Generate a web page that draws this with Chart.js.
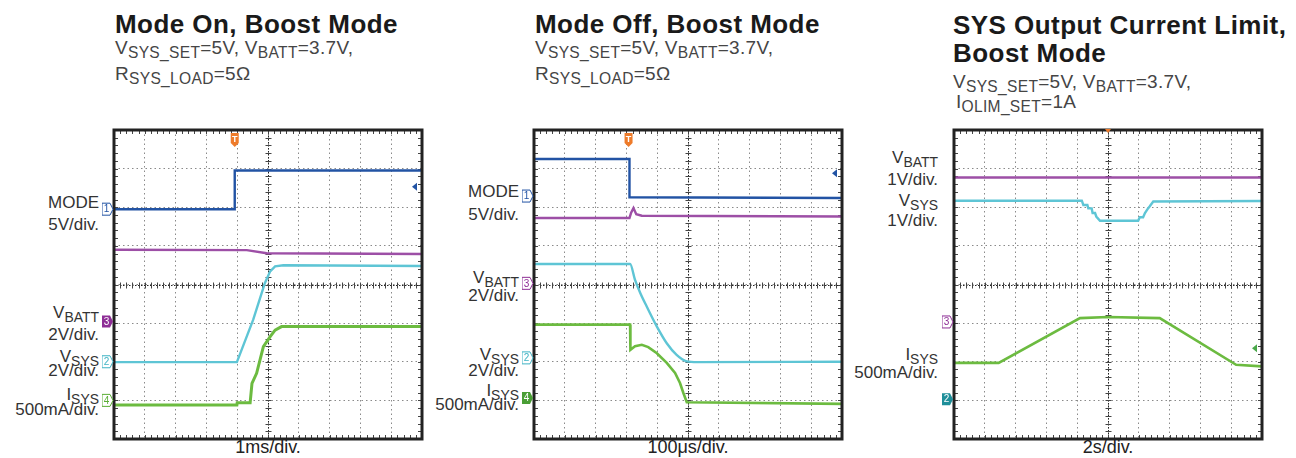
<!DOCTYPE html>
<html>
<head>
<meta charset="utf-8">
<script src="https://cdn.jsdelivr.net/npm/chart.js@4.4.1/dist/chart.umd.min.js"></script>
<style>
  html, body { margin:0; padding:0; background:#fff; }
  body { width:1296px; height:458px; position:relative; overflow:hidden; font-family:"Liberation Sans", Arial, Helvetica, sans-serif; }
  .t { position:absolute; white-space:nowrap; line-height:1; }
  .title { font-weight:bold; font-size:26px; color:#1a1a1a; letter-spacing:0.45px; }
  .sub { font-size:19px; color:#454545; letter-spacing:0.3px; }
  .sub .s { font-size:0.82em; position:relative; top:0.24em; }
  .lab { font-size:17px; color:#333; text-align:right; }
  .lab .s { font-size:0.82em; position:relative; top:0.3em; }
  .xl { font-size:18px; color:#222; text-align:center; width:308px; }
  canvas { position:absolute; }
</style>
</head>
<body>
<!-- Titles -->
<div class="t title" style="left:115px; top:11px;">Mode On, Boost Mode</div>
<div class="t sub" style="left:115px; top:38px;">V<span class="s">SYS_SET</span>=5V, V<span class="s">BATT</span>=3.7V,</div>
<div class="t sub" style="left:115px; top:64px;">R<span class="s">SYS_LOAD</span>=5Ω</div>

<div class="t title" style="left:535px; top:11px;">Mode Off, Boost Mode</div>
<div class="t sub" style="left:535px; top:38px;">V<span class="s">SYS_SET</span>=5V, V<span class="s">BATT</span>=3.7V,</div>
<div class="t sub" style="left:535px; top:64px;">R<span class="s">SYS_LOAD</span>=5Ω</div>

<div class="t title" style="left:953px; top:12px;">SYS Output Current Limit,</div>
<div class="t title" style="left:953px; top:40px;">Boost Mode</div>
<div class="t sub" style="left:953px; top:72px;">V<span class="s">SYS_SET</span>=5V, V<span class="s">BATT</span>=3.7V,</div>
<div class="t sub" style="left:956px; top:92px;">I<span class="s">OLIM_SET</span>=1A</div>

<!-- Panel 1 channel labels -->
<div class="t lab" style="right:1197px; top:193.6px;">MODE</div>
<div class="t lab" style="right:1197px; top:215.6px;">5V/div.</div>
<div class="t lab" style="right:1197px; top:303.6px;">V<span class="s">BATT</span></div>
<div class="t lab" style="right:1197px; top:325.6px;">2V/div.</div>
<div class="t lab" style="right:1197px; top:347.6px;">V<span class="s">SYS</span></div>
<div class="t lab" style="right:1197px; top:362.3px;">2V/div.</div>
<div class="t lab" style="right:1197px; top:385.6px;">I<span class="s">SYS</span></div>
<div class="t lab" style="right:1197px; top:400.6px;">500mA/div.</div>

<!-- Panel 2 channel labels -->
<div class="t lab" style="right:777px; top:182.6px;">MODE</div>
<div class="t lab" style="right:777px; top:205.6px;">5V/div.</div>
<div class="t lab" style="right:777px; top:268.6px;">V<span class="s">BATT</span></div>
<div class="t lab" style="right:777px; top:287.3px;">2V/div.</div>
<div class="t lab" style="right:777px; top:345.6px;">V<span class="s">SYS</span></div>
<div class="t lab" style="right:777px; top:362.3px;">2V/div.</div>
<div class="t lab" style="right:777px; top:382.3px;">I<span class="s">SYS</span></div>
<div class="t lab" style="right:777px; top:395.6px;">500mA/div.</div>

<!-- Panel 3 channel labels -->
<div class="t lab" style="right:358px; top:148.9px;">V<span class="s">BATT</span></div>
<div class="t lab" style="right:358px; top:170.6px;">1V/div.</div>
<div class="t lab" style="right:358px; top:192.3px;">V<span class="s">SYS</span></div>
<div class="t lab" style="right:358px; top:212.3px;">1V/div.</div>
<div class="t lab" style="right:358px; top:345.6px;">I<span class="s">SYS</span></div>
<div class="t lab" style="right:358px; top:363.9px;">500mA/div.</div>

<!-- Time base labels -->
<div class="t xl" style="left:114px; top:438px;">1ms/div.</div>
<div class="t xl" style="left:534px; top:438px;">100μs/div.</div>
<div class="t xl" style="left:954px; top:438px;">2s/div.</div>

<canvas id="c1" width="332" height="333" style="left:102px; top:118px;"></canvas>
<canvas id="c2" width="332" height="333" style="left:522px; top:118px;"></canvas>
<canvas id="c3" width="332" height="333" style="left:942px; top:118px;"></canvas>

<script>
// ---------- DATA (time in divisions 0..10, level in divisions 0..8) ----------
// Panel 1: Mode On, Boost Mode (1ms/div)
const modeOnX  = [0, 3.92, 3.92, 10];
const modeOnY  = [5.95, 5.95, 6.95, 6.95];
const vbattOnX = [0, 4.31, 4.96, 10];
const vbattOnY = [4.90, 4.89, 4.81, 4.79];
const vsysOnX  = [0, 3.99, 4.52, 4.90, 5.07, 5.23, 5.5, 10];
const vsysOnY  = [1.99, 1.99, 3.09, 4.04, 4.34, 4.47, 4.50, 4.48];
const isysOnX  = [0, 3.99, 4.0, 4.42, 4.48, 4.63, 4.85, 5.07, 5.23, 5.44, 10];
const isysOnY  = [0.88, 0.88, 0.94, 0.94, 1.44, 1.70, 2.39, 2.65, 2.82, 2.91, 2.91];
const markersOnLabels = ['1', '3', '2', '4'];
const markersOnLevels = [5.95, 3.04, 2.0, 1.0];
const arrowOnLevel = 6.53;
const triggerOnTime = 3.92;

// Panel 2: Mode Off, Boost Mode (100us/div)
const modeOffX  = [0, 3.10, 3.10, 10];
const modeOffY  = [7.25, 7.25, 6.26, 6.24];
const vbattOffX = [0, 3.10, 3.15, 3.23, 3.32, 3.5, 10];
const vbattOffY = [5.72, 5.72, 5.85, 5.98, 5.82, 5.78, 5.76];
const vsysOffX  = [0, 3.12, 3.28, 3.45, 3.66, 3.99, 4.31, 4.63, 4.96, 5.3, 10];
const vsysOffY  = [4.53, 4.53, 4.12, 3.78, 3.43, 2.91, 2.48, 2.18, 2.01, 1.99, 2.00];
const isysOffX  = [0, 3.12, 3.13, 3.28, 3.50, 3.71, 3.99, 4.31, 4.58, 4.74, 4.85, 4.96, 10];
const isysOffY  = [2.96, 2.96, 2.31, 2.40, 2.44, 2.38, 2.22, 1.97, 1.71, 1.45, 1.19, 0.95, 0.91];
const markersOffLabels = ['1', '3', '2', '4'];
const markersOffLevels = [6.29, 4.03, 2.10, 1.06];
const arrowOffLevel = 6.88;
const triggerOffTime = 3.07;

// Panel 3: SYS Output Current Limit, Boost Mode (2s/div)
const vbattLimX = [0, 10];
const vbattLimY = [6.77, 6.77];
const vsysLimX  = [0, 4.15, 4.2, 4.33, 4.36, 4.47, 4.5, 4.58, 4.62, 4.74, 5.98, 6.03, 6.14, 6.2, 6.3, 6.35, 6.47, 10];
const vsysLimY  = [6.17, 6.17, 6.06, 6.06, 5.97, 5.97, 5.85, 5.85, 5.76, 5.65, 5.65, 5.74, 5.74, 5.85, 5.97, 6.02, 6.15, 6.16];
const isysLimX  = [0, 1.45, 4.09, 5.0, 6.68, 9.16, 10];
const isysLimY  = [1.97, 1.97, 3.13, 3.16, 3.13, 1.92, 1.88];
const markersLimLabels = ['3', '2'];
const markersLimLevels = [3.03, 1.03];
const arrowLimLevel = 2.35;
const triggerLimTime = 5.0;

// ---------- STYLE ----------
const C = { mode:'#2253a4', vbatt:'#9d4fa6', vsys:'#5ec5d5', isys:'#6cbb40', trig:'#ee7b2a', frame:'#222' };

function pts(xs, ys) { return xs.map((x, i) => ({ x: x, y: ys[i] })); }

function scopePlugin(extra) {
  return {
    id: 'scope',
    beforeDatasetsDraw(chart) {
      const ctx = chart.ctx, a = chart.chartArea, sx = chart.scales.x, sy = chart.scales.y;
      ctx.save();
      const cx = Math.round(sx.getPixelForValue(5)) + 0.5;
      const cy = Math.round(sy.getPixelForValue(4)) + 0.5;
      ctx.strokeStyle = '#222';
      ctx.lineWidth = 1;
      ctx.setLineDash([1.5, 1.5]);
      ctx.beginPath();
      ctx.moveTo(cx, a.top); ctx.lineTo(cx, a.bottom);
      ctx.moveTo(a.left, cy); ctx.lineTo(a.right, cy);
      ctx.stroke();
      ctx.setLineDash([]);
      ctx.strokeStyle = '#444';
      ctx.beginPath();
      for (let i = 0; i <= 50; i++) {
        const px = Math.round(sx.getPixelForValue(i * 0.2)) + 0.5;
        ctx.moveTo(px, cy - 3); ctx.lineTo(px, cy + 3);
        ctx.moveTo(px, a.top); ctx.lineTo(px, a.top + 4);
        ctx.moveTo(px, a.bottom); ctx.lineTo(px, a.bottom - 4);
      }
      for (let i = 0; i <= 40; i++) {
        const py = Math.round(sy.getPixelForValue(i * 0.2)) + 0.5;
        ctx.moveTo(cx - 3, py); ctx.lineTo(cx + 3, py);
        ctx.moveTo(a.left, py); ctx.lineTo(a.left + 4, py);
        ctx.moveTo(a.right, py); ctx.lineTo(a.right - 4, py);
      }
      ctx.stroke();
      ctx.restore();
    },
    afterDatasetsDraw(chart) {
      const ctx = chart.ctx, a = chart.chartArea, sx = chart.scales.x, sy = chart.scales.y;
      ctx.save();
      // frame
      ctx.strokeStyle = C.frame;
      ctx.lineWidth = 3;
      ctx.strokeRect(a.left, a.top, a.right - a.left, a.bottom - a.top);
      // channel markers (left edge)
      extra.markers.forEach(m => {
        const py = sy.getPixelForValue(m.level);
        const x0 = a.left - 12, x1 = a.left - 4, x2 = a.left - 1;
        ctx.beginPath();
        ctx.moveTo(x0, py - 6); ctx.lineTo(x1, py - 6); ctx.lineTo(x2, py);
        ctx.lineTo(x1, py + 6); ctx.lineTo(x0, py + 6); ctx.closePath();
        if (m.filled) { ctx.fillStyle = m.color; ctx.fill(); }
        else { ctx.fillStyle = '#fff'; ctx.fill(); ctx.lineWidth = 1; ctx.strokeStyle = m.color; ctx.stroke(); }
        ctx.fillStyle = m.filled ? '#fff' : m.color;
        ctx.font = '10px "Liberation Sans", Arial, sans-serif';
        ctx.textAlign = 'center'; ctx.textBaseline = 'middle';
        ctx.fillText(m.label, x0 + 4.5, py + 0.5);
      });
      // ground/offset arrow (right edge)
      if (extra.arrow) {
        const py = sy.getPixelForValue(extra.arrow.level);
        ctx.fillStyle = extra.arrow.color;
        ctx.beginPath();
        ctx.moveTo(a.right - 10, py); ctx.lineTo(a.right - 5, py - 4); ctx.lineTo(a.right - 5, py + 4); ctx.closePath();
        ctx.fill();
      }
      // trigger marker
      if (extra.trigger) {
        const px = sx.getPixelForValue(extra.trigger.time);
        ctx.fillStyle = C.trig;
        if (extra.trigger.big) {
          ctx.beginPath();
          ctx.moveTo(px - 4, a.top + 3); ctx.lineTo(px + 4, a.top + 3);
          ctx.lineTo(px + 4, a.top + 13); ctx.lineTo(px, a.top + 17); ctx.lineTo(px - 4, a.top + 13);
          ctx.closePath(); ctx.fill();
          ctx.fillStyle = '#fff';
          ctx.font = 'bold 9px "Liberation Sans", Arial, sans-serif';
          ctx.textAlign = 'center'; ctx.textBaseline = 'middle';
          ctx.fillText('T', px, a.top + 9.5);
        } else {
          ctx.beginPath();
          ctx.moveTo(px - 3, a.top - 1); ctx.lineTo(px + 3, a.top - 1); ctx.lineTo(px, a.top + 3);
          ctx.closePath(); ctx.fill();
        }
      }
      ctx.restore();
    }
  };
}

function makePanel(id, datasets, extra) {
  new Chart(document.getElementById(id), {
    type: 'line',
    data: {
      datasets: datasets.map(d => ({
        data: d.data, borderColor: d.color, borderWidth: d.width || 2.4,
        pointRadius: 0, tension: 0, fill: false,
        cubicInterpolationMode: d.smooth ? 'monotone' : 'default'
      }))
    },
    options: {
      responsive: false,
      animation: false,
      layout: { padding: 12 },
      events: [],
      plugins: { legend: { display: false }, tooltip: { enabled: false } },
      scales: {
        x: {
          type: 'linear', min: 0, max: 10,
          ticks: { display: false, stepSize: 1 },
          grid: { drawTicks: false, color: '#8a8a8a', lineWidth: 1 },
          border: { display: false, dash: [1.5, 3] }
        },
        y: {
          type: 'linear', min: 0, max: 8,
          ticks: { display: false, stepSize: 1 },
          grid: { drawTicks: false, color: '#8a8a8a', lineWidth: 1 },
          border: { display: false, dash: [1.5, 3] }
        }
      }
    },
    plugins: [scopePlugin(extra)]
  });
}

function markerList(labels, levels, colorMap, filledSet) {
  return labels.map((l, i) => ({ label: l, level: levels[i], color: colorMap[l], filled: filledSet.indexOf(l) >= 0 }));
}

makePanel('c1', [
  { data: pts(modeOnX, modeOnY), color: C.mode },
  { data: pts(vbattOnX, vbattOnY), color: C.vbatt },
  { data: pts(vsysOnX, vsysOnY), color: C.vsys },
  { data: pts(isysOnX, isysOnY), color: C.isys, width: 3 }
], {
  markers: markerList(markersOnLabels, markersOnLevels, { '1': C.mode, '3': '#8e2e96', '2': '#3fb3c4', '4': '#5aae35' }, ['3']),
  arrow: { level: arrowOnLevel, color: C.mode },
  trigger: { time: triggerOnTime, big: true }
});

makePanel('c2', [
  { data: pts(modeOffX, modeOffY), color: C.mode },
  { data: pts(vbattOffX, vbattOffY), color: C.vbatt },
  { data: pts(vsysOffX, vsysOffY), color: C.vsys, smooth: true },
  { data: pts(isysOffX, isysOffY), color: C.isys, width: 2.6 }
], {
  markers: markerList(markersOffLabels, markersOffLevels, { '1': C.mode, '3': '#8e2e96', '2': '#3fb3c4', '4': '#4a9e35' }, ['4']),
  arrow: { level: arrowOffLevel, color: C.mode },
  trigger: { time: triggerOffTime, big: true }
});

makePanel('c3', [
  { data: pts(vbattLimX, vbattLimY), color: C.vbatt, width: 2.6 },
  { data: pts(vsysLimX, vsysLimY), color: C.vsys },
  { data: pts(isysLimX, isysLimY), color: C.isys, width: 2.6 }
], {
  markers: markerList(markersLimLabels, markersLimLevels, { '3': '#8e2e96', '2': '#1f8f9a' }, ['2']),
  arrow: { level: arrowLimLevel, color: '#4aa84a' },
  trigger: { time: triggerLimTime, big: false }
});
</script>
</body>
</html>
